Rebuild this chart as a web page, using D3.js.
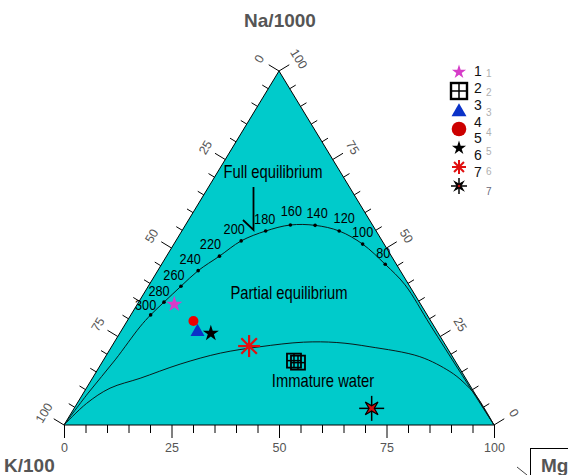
<!DOCTYPE html>
<html>
<head>
<meta charset="utf-8">
<script src="https://cdn.jsdelivr.net/npm/d3@7"></script>
<style>
  html, body { margin: 0; padding: 0; background: #fff; }
  svg { display: block; }
</style>
</head>
<body>
<svg id="chart" width="568" height="475"></svg>
<script>
// Na-K-Mg ternary (Giggenbach): percentages of Na/1000 (top), K/100 (left), sqrt(Mg) (right)
const sampleIds = ["1", "2", "3", "4", "5", "6", "7"];
const sampleNa  = [34.1, 17.9, 26.3, 29.4, 25.9, 22.3, 4.7];
const sampleMg  = [8.6, 45.0, 17.9, 15.4, 21.2, 31.9, 69.2];

// full equilibrium line, labelled temperatures (°C)
const eqTemps = [300, 280, 260, 240, 220, 200, 180, 160, 140, 120, 100, 80];
const eqNa    = [31.1, 34.7, 39.2, 43.6, 47.7, 52.0, 54.8, 56.5, 56.4, 54.8, 51.1, 45.4];
const eqMg    = [4.6, 5.9, 7.6, 9.4, 12.3, 15.2, 19.5, 24.4, 30.2, 36.6, 43.9, 52.0];

// full equilibrium line beyond the labelled range
const eqHotNa  = [0, 9.0, 18.4, 27.7];
const eqHotMg  = [0, 1.1, 2.7, 3.8];
const eqColdNa = [39.6, 28.3, 15.0, 0];
const eqColdMg = [59.5, 71.0, 84.6, 100];

// boundary of immature waters
const immNa = [0, 6.1, 10.4, 13.2, 17.2, 20.3, 22.1, 23.4, 23.3, 22.1, 19.3, 15.1, 12.2, 8.0, 0];
const immMg = [0, 2.2, 5.5, 11.1, 18.4, 26.2, 34.5, 44.0, 51.8, 60.1, 73.1, 82.2, 86.7, 92.0, 100];

const axisTicks  = [0, 25, 50, 75, 100];
const minorTicks = d3.range(0, 101, 5);

// ---- layout ----
const markerTypes = ["starM", "grid", "tri", "circ", "starK", "astR", "astK"];
const eqLabelOffset = [[-5,-10],[-5,-12],[-7,-12],[-8,-12],[-9,-13],[-7,-12],[-1,-12],[1,-14],[2,-13],[5,-13],[0,-13],[-2,-12]];
const sans = "'Liberation Sans',Arial,sans-serif";
const teal = "#00cbcb";

const svg = d3.select("#chart");
const x = d3.scaleLinear().domain([0, 100]).range([64, 494]);
const y = d3.scaleLinear().domain([0, 100]).range([425, 71]);
const project = (na, mg) => [x(mg + na / 2), y(na)];

// condensed annotation text (horizontally squeezed sans)
function narrowText(txt, cx, cy, size, central) {
  const t = svg.append("g").attr("transform", `translate(${cx},${cy}) scale(0.82,1)`)
    .append("text")
    .attr("text-anchor", "middle")
    .attr("font-family", sans).attr("font-size", size).attr("fill", "#000")
    .text(txt);
  if (central) t.attr("dominant-baseline", "central");
  return t;
}

// triangle body
const corners = [project(0, 0), project(0, 100), project(100, 0)];
svg.append("path")
  .attr("d", "M" + corners.map(p => p.join(",")).join("L") + "Z")
  .attr("fill", teal).attr("stroke", "#000").attr("stroke-width", 1);

// side axes: ticks perpendicular to the edges, pointing outward
const edgeDx = x(50) - x(0), edgeDy = y(100) - y(0);
const edgeLen = Math.hypot(edgeDx, edgeDy);
const nLeft  = [edgeDy / edgeLen, -edgeDx / edgeLen];   // outward normal of the left edge
const nRight = [-edgeDy / edgeLen, -edgeDx / edgeLen];  // outward normal of the right edge
const edgeAngle = Math.atan2(edgeDy, edgeDx) * 180 / Math.PI;

const sideG = svg.append("g");
minorTicks.forEach(v => {
  const len = v % 25 === 0 ? 12 : 7;
  // left side: K/100, 0 at the apex, 100 at the K corner
  const pl = project(100 - v, 0);
  sideG.append("line")
    .attr("x1", pl[0]).attr("y1", pl[1])
    .attr("x2", pl[0] + nLeft[0] * len).attr("y2", pl[1] + nLeft[1] * len)
    .attr("stroke", "#000").attr("stroke-width", 1);
  // right side: Na/1000, 100 at the apex, 0 at the Mg corner
  const pr = project(v, 100 - v);
  sideG.append("line")
    .attr("x1", pr[0]).attr("y1", pr[1])
    .attr("x2", pr[0] + nRight[0] * len).attr("y2", pr[1] + nRight[1] * len)
    .attr("stroke", "#000").attr("stroke-width", 1);
});
axisTicks.forEach(v => {
  const pl = project(100 - v, 0);
  const lx = pl[0] + nLeft[0] * 23, ly = pl[1] + nLeft[1] * 23;
  sideG.append("text")
    .attr("transform", `translate(${lx},${ly}) rotate(${edgeAngle})`)
    .attr("text-anchor", "middle").attr("dominant-baseline", "central")
    .attr("font-family", sans).attr("font-size", 12.5).attr("fill", "#555")
    .text(v);
  const pr = project(v, 100 - v);
  const rx = pr[0] + nRight[0] * 23, ry = pr[1] + nRight[1] * 23;
  sideG.append("text")
    .attr("transform", `translate(${rx},${ry}) rotate(${-edgeAngle})`)
    .attr("text-anchor", "middle").attr("dominant-baseline", "central")
    .attr("font-family", sans).attr("font-size", 12.5).attr("fill", "#555")
    .text(v);
});

// bottom axis: sqrt(Mg)
const bottom = svg.append("g").attr("transform", `translate(0,${y(0)})`);
bottom.call(d3.axisBottom(x).tickValues(minorTicks.filter(v => v % 25 !== 0)).tickSize(8).tickFormat(""))
  .call(g => g.select(".domain").remove());
const bottomMajor = svg.append("g").attr("transform", `translate(0,${y(0)})`);
bottomMajor.call(d3.axisBottom(x).tickValues(axisTicks).tickSize(13).tickPadding(5))
  .call(g => g.select(".domain").remove());
bottomMajor.selectAll("text").attr("font-family", sans).attr("font-size", 12.5).attr("fill", "#555");
svg.selectAll(".tick line").attr("stroke", "#000");

// curves
const line = d3.line().curve(d3.curveCatmullRom.alpha(0.5));
const eqLine = []
  .concat(eqHotNa.map((na, i) => project(na, eqHotMg[i])))
  .concat(eqNa.map((na, i) => project(na, eqMg[i])))
  .concat(eqColdNa.map((na, i) => project(na, eqColdMg[i])));
svg.append("path").attr("d", line(eqLine))
  .attr("fill", "none").attr("stroke", "#0a1a1a").attr("stroke-width", 1);
svg.append("path").attr("d", line(immNa.map((na, i) => project(na, immMg[i]))))
  .attr("fill", "none").attr("stroke", "#0a1a1a").attr("stroke-width", 1);

// temperature dots and labels
eqTemps.forEach((t, i) => {
  const p = project(eqNa[i], eqMg[i]);
  svg.append("circle").attr("cx", p[0]).attr("cy", p[1]).attr("r", 1.8).attr("fill", "#000");
  narrowText(t, p[0] + eqLabelOffset[i][0], p[1] + eqLabelOffset[i][1], 15.5, true);
});

// field labels
narrowText("Full equilibrium", 273, 178, 18, false);
narrowText("Partial equilibrium", 289, 299, 18, false);
narrowText("Immature water", 323, 387, 18, false);

// arrow pointing to the equilibrium line
svg.append("path")
  .attr("d", "M253.5,187 L253.5,230 L243,220")
  .attr("fill", "none").attr("stroke", "#000").attr("stroke-width", 1.8);

// marker shapes
function rays(g, r, color, w) {
  for (let k = 0; k < 4; k++) {
    const a = k * Math.PI / 4;
    g.append("line")
      .attr("x1", -r * Math.cos(a)).attr("y1", -r * Math.sin(a))
      .attr("x2", r * Math.cos(a)).attr("y2", r * Math.sin(a))
      .attr("stroke", color).attr("stroke-width", w);
  }
}
function drawMarker(g, type, legend) {
  switch (type) {
    case "starM":
      g.append("path").attr("d", d3.symbol(d3.symbolStar, legend ? 62 : 80)()).attr("fill", "#d63cc8");
      break;
    case "starK":
      g.append("path").attr("d", d3.symbol(d3.symbolStar, legend ? 62 : 80)()).attr("fill", "#000");
      break;
    case "tri":
      g.append("path").attr("d", d3.symbol(d3.symbolTriangle, legend ? 97 : 85)())
        .attr("transform", legend ? "translate(0,2)" : null).attr("fill", "#0a32c8");
      break;
    case "circ":
      g.append("circle").attr("r", legend ? 7.3 : 5).attr("fill", legend ? "#cc0000" : "#ee0000");
      break;
    case "grid": {
      const s = legend ? 16 : 14;
      const offs = legend ? [[0, 0]] : [[-2, -1], [2, 1]];
      offs.forEach(([ox, oy]) => {
        const q = g.append("g").attr("transform", `translate(${ox},${oy})`);
        q.append("rect").attr("x", -s / 2).attr("y", -s / 2).attr("width", s).attr("height", s)
          .attr("fill", "none").attr("stroke", "#000").attr("stroke-width", legend ? 2.4 : 1.8);
        q.append("line").attr("x1", 0).attr("x2", 0).attr("y1", -s / 2).attr("y2", s / 2)
          .attr("stroke", "#000").attr("stroke-width", 1.5);
        q.append("line").attr("y1", 0).attr("y2", 0).attr("x1", -s / 2).attr("x2", s / 2)
          .attr("stroke", "#000").attr("stroke-width", 1.5);
      });
      break;
    }
    case "astR":
      rays(g, legend ? 7 : 11, "#e01010", legend ? 2 : 2.2);
      g.append("circle").attr("r", legend ? 2 : 3).attr("fill", "#e01010");
      break;
    case "astK": {
      const r = legend ? 8 : 12.5, d = legend ? 6 : 9, ri = legend ? 1.8 : 2.6;
      g.append("line").attr("x1", 0).attr("x2", 0).attr("y1", -r).attr("y2", r).attr("stroke", "#000").attr("stroke-width", 1.5);
      g.append("line").attr("y1", 0).attr("y2", 0).attr("x1", -r).attr("x2", r).attr("stroke", "#000").attr("stroke-width", 1.5);
      const pts = [];
      for (let k = 0; k < 8; k++) {
        const a = Math.PI / 4 + k * Math.PI / 4;
        const rr = k % 2 === 0 ? d : ri;
        pts.push([rr * Math.cos(a), rr * Math.sin(a)]);
      }
      g.append("path").attr("d", "M" + pts.map(p => p.join(",")).join("L") + "Z")
        .attr("fill", legend ? "#000" : "#d01010").attr("stroke", "#000").attr("stroke-width", 1.2);
      if (legend) g.append("circle").attr("r", 1.3).attr("fill", "#c01010");
      break;
    }
  }
}

// samples
sampleIds.forEach((id, i) => {
  const p = project(sampleNa[i], sampleMg[i]);
  const g = svg.append("g").attr("transform", `translate(${p[0]},${p[1]})`);
  drawMarker(g, markerTypes[i], false);
});

// legend
const legendSym   = d3.scaleLinear().domain([0, 6]).range([72, 186]);
const legendText  = d3.scaleLinear().domain([0, 6]).range([71, 172]);
const legendShade = d3.scaleLinear().domain([0, 6]).range([73, 191]);
sampleIds.forEach((id, i) => {
  const g = svg.append("g").attr("transform", `translate(459,${legendSym(i)})`);
  drawMarker(g, markerTypes[i], true);
  svg.append("text").attr("x", 486).attr("y", legendShade(i))
    .attr("dominant-baseline", "central")
    .attr("font-family", sans).attr("font-size", 10).attr("fill", i === 6 ? "#667" : "#b0b0b0")
    .text(id);
  svg.append("text").attr("x", 474).attr("y", legendText(i))
    .attr("dominant-baseline", "central")
    .attr("font-family", sans).attr("font-size", 14).attr("fill", "#111")
    .text(id);
});

// axis titles
svg.append("text").attr("x", 280).attr("y", 27).attr("text-anchor", "middle")
  .attr("font-family", sans).attr("font-weight", "bold").attr("font-size", 19).attr("fill", "#555")
  .text("Na/1000");
svg.append("text").attr("x", 4).attr("y", 472)
  .attr("font-family", sans).attr("font-weight", "bold").attr("font-size", 19).attr("fill", "#555")
  .text("K/100");
svg.append("rect").attr("x", 530.5).attr("y", 448.5).attr("width", 60).attr("height", 40)
  .attr("fill", "#fff").attr("stroke", "#000").attr("stroke-width", 1);
svg.append("text").attr("x", 541).attr("y", 472)
  .attr("font-family", sans).attr("font-weight", "bold").attr("font-size", 19).attr("fill", "#555")
  .text("Mg");
svg.append("line").attr("x1", 517).attr("y1", 467).attr("x2", 527).attr("y2", 475)
  .attr("stroke", "#444").attr("stroke-width", 1);
</script>
</body>
</html>
